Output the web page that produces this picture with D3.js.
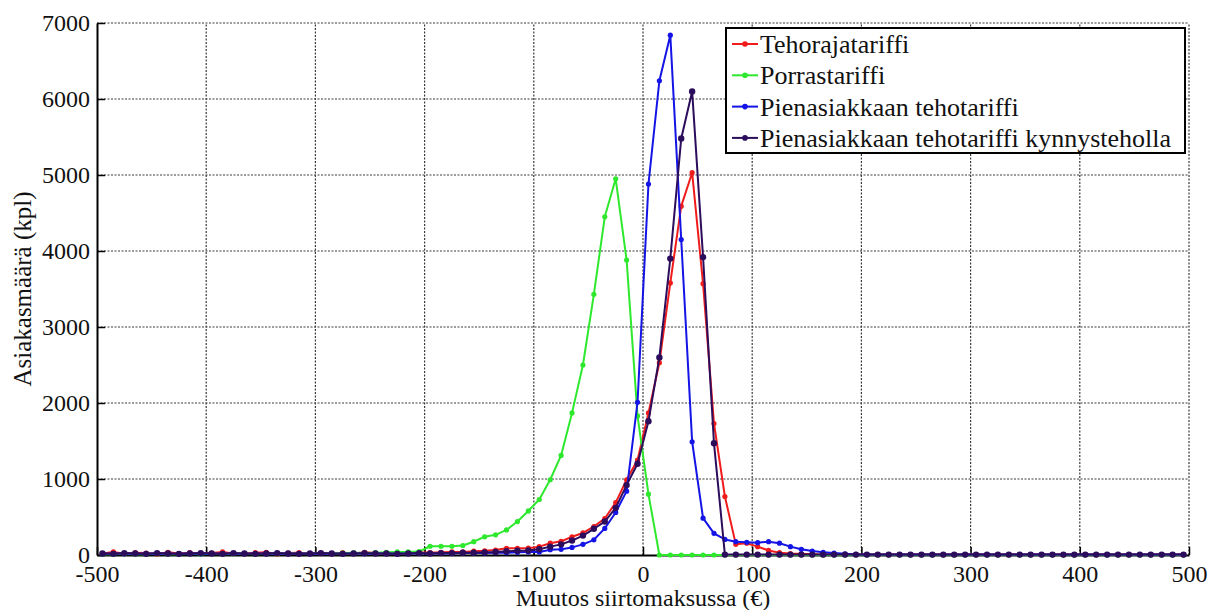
<!DOCTYPE html>
<html>
<head>
<meta charset="utf-8">
<script src="https://cdn.jsdelivr.net/npm/d3@7"></script>
<style>
  body { margin: 0; background: #fff; }
  svg text { font-family: "Liberation Serif", "DejaVu Serif", "Times New Roman", serif; fill: #111; }
</style>
</head>
<body>
<div id="chart"></div>
<script>
// bin centres, 10 euro bins from -500 to 500
const bins = d3.range(-495, 500, 10);

const xTicks = [-500, -400, -300, -200, -100, 0, 100, 200, 300, 400, 500];
const yTicks = [0, 1000, 2000, 3000, 4000, 5000, 6000, 7000];

const seriesNames = [
  "Tehorajatariffi",
  "Porrastariffi",
  "Pienasiakkaan tehotariffi",
  "Pienasiakkaan tehotariffi kynnysteholla"
];
const seriesColors = ["#f01c1c", "#2ee82e", "#1414e6", "#2c0d5c"];

// values, one per bin (-495 ... 495)
const tehoraja = [
  20, 40, 15, 30, 25, 10, 35, 20, 30, 15,
  25, 40, 20, 15, 30, 35, 10, 25, 30, 20,
  25, 15, 30, 20, 35, 25, 20, 30, 25, 35,
  30, 35, 40, 40, 50, 55, 65, 88, 88, 90,
  110, 155, 180, 240, 290, 375, 480, 690, 990, 1250,
  1870, 2530, 3580, 4590, 5030, 3570, 1730, 770, 140, 155,
  110, 60, 30, 20, 15, 10, 5, 5, 5, 5,
  5, 5, 5, 5, 5, 5, 5, 5, 5, 5,
  5, 5, 5, 5, 5, 5, 5, 5, 5, 5,
  5, 5, 5, 5, 5, 5, 5, 5, 5, 5
];
const porras = [
  10, 10, 15, 10, 10, 15, 10, 10, 15, 10,
  15, 10, 15, 15, 10, 15, 15, 20, 15, 20,
  20, 20, 25, 30, 25, 30, 35, 40, 40, 45,
  115, 115, 115, 125, 175, 240, 265, 330, 440, 580,
  730, 990, 1310, 1870, 2500, 3430, 4450, 4950, 3880, 1830,
  800, 0, 0, 0, 0, 0, 0, 0, 0, 0,
  0, 0, 0, 0, 0, 0, 0, 0, 0, 0,
  0, 0, 0, 0, 0, 0, 0, 0, 0, 0,
  0, 0, 0, 0, 0, 0, 0, 0, 0, 0,
  0, 0, 0, 0, 0, 0, 0, 0, 0, 0
];
const pienTeho = [
  15, 20, 15, 20, 15, 20, 15, 15, 20, 15,
  20, 15, 20, 15, 20, 15, 20, 15, 20, 15,
  20, 15, 20, 20, 15, 20, 20, 15, 20, 20,
  20, 20, 20, 25, 25, 25, 30, 30, 35, 40,
  40, 70, 75, 100, 140, 200, 350, 560, 840, 2010,
  4880, 6240, 6840, 4150, 1490, 485, 285, 205, 175, 168,
  162, 175, 155, 110, 75, 52, 35, 25, 15, 8,
  5, 5, 5, 5, 5, 5, 5, 5, 5, 5,
  5, 5, 5, 5, 5, 5, 5, 5, 5, 5,
  5, 5, 5, 5, 5, 5, 5, 5, 5, 5
];
const pienKynnys = [
  20, 15, 25, 20, 15, 25, 20, 15, 20, 25,
  20, 15, 25, 20, 15, 20, 25, 20, 15, 20,
  25, 20, 15, 20, 25, 20, 20, 15, 20, 25,
  20, 25, 25, 30, 30, 35, 40, 50, 55, 60,
  75, 110, 140, 190, 255, 345, 440, 620, 920, 1200,
  1760, 2600, 3900, 5480, 6100, 3920, 1470, 5, 5, 5,
  5, 5, 5, 5, 5, 5, 5, 5, 5, 5,
  5, 5, 5, 5, 5, 5, 5, 5, 5, 5,
  5, 5, 5, 5, 5, 5, 5, 5, 5, 5,
  5, 5, 5, 5, 5, 5, 5, 5, 5, 5
];

const seriesValues = [tehoraja, porras, pienTeho, pienKynnys];

const width = 1218, height = 610;
const margin = {top: 23, right: 29, bottom: 55, left: 97};
const serif = '"Liberation Serif", "DejaVu Serif", "Times New Roman", serif';

const svg = d3.select("#chart")
    .append("svg")
    .attr("width", width)
    .attr("height", height);

const x = d3.scaleLinear()
    .domain([-500, 500])
    .range([margin.left, width - margin.right]);

const y = d3.scaleLinear()
    .domain([0, 7000])
    .range([height - margin.bottom, margin.top]);

// dotted grid
const grid = svg.append("g").attr("class", "grid")
    .style("stroke", "#3a3a3a")
    .style("stroke-width", 1.2)
    .style("stroke-dasharray", "2,1.5");

grid.selectAll("line.gx")
    .data(xTicks.slice(1))
  .enter().append("line")
    .attr("class", "gx")
    .attr("x1", d => x(d)).attr("x2", d => x(d))
    .attr("y1", y(0)).attr("y2", y(7000));

grid.selectAll("line.gy")
    .data(yTicks.slice(1))
  .enter().append("line")
    .attr("class", "gy")
    .attr("x1", x(-500)).attr("x2", x(500))
    .attr("y1", d => y(d)).attr("y2", d => y(d));

// axes, ticks pointing inside, plain hyphen minus and no thousands comma
const fmt = d => String(d);

const xAxis = svg.append("g")
    .attr("transform", `translate(0,${y(0)})`)
    .call(d3.axisBottom(x).tickValues(xTicks).tickFormat(fmt)
      .tickSizeInner(-8).tickSizeOuter(0).tickPadding(10));

const yAxis = svg.append("g")
    .attr("transform", `translate(${x(-500)},0)`)
    .call(d3.axisLeft(y).tickValues(yTicks).tickFormat(fmt)
      .tickSizeInner(-8).tickSizeOuter(0).tickPadding(7));

[xAxis, yAxis].forEach(a => {
  a.attr("font-family", serif).attr("font-size", 24);
  a.select(".domain").attr("stroke", "#000").attr("stroke-width", 2);
  a.selectAll(".tick line").attr("stroke", "#000").attr("stroke-width", 1.5);
  a.selectAll(".tick text").attr("fill", "#111");
});
yAxis.selectAll(".tick text").attr("dy", "0.3em");

// axis labels
svg.append("text")
    .attr("x", x(0))
    .attr("y", 606)
    .attr("text-anchor", "middle")
    .attr("font-family", serif)
    .style("font-size", "24px")
    .text("Muutos siirtomaksussa (€)");

svg.append("text")
    .attr("transform", `translate(31,${(y(0) + y(7000)) / 2}) rotate(-90)`)
    .attr("text-anchor", "middle")
    .attr("font-family", serif)
    .style("font-size", "25px")
    .text("Asiakasmäärä (kpl)");

// series
const line = d3.line()
    .x((d, i) => x(bins[i]))
    .y(d => y(d));

const plot = svg.append("g").attr("class", "series");

seriesValues.forEach((vals, s) => {
  const g = plot.append("g");
  g.append("path")
      .datum(vals)
      .attr("d", line)
      .attr("fill", "none")
      .attr("stroke", seriesColors[s])
      .attr("stroke-width", 2)
      .attr("stroke-linejoin", "round");
  g.selectAll("circle")
      .data(vals)
    .enter().append("circle")
      .attr("cx", (d, i) => x(bins[i]))
      .attr("cy", d => y(d))
      .attr("r", s === 3 ? 3.2 : 2.6)
      .attr("fill", seriesColors[s]);
});

// legend
const legend = svg.append("g").attr("class", "legend");
legend.append("rect")
    .attr("x", 726).attr("y", 28)
    .attr("width", 459).attr("height", 125)
    .attr("fill", "#fff")
    .attr("stroke", "#000")
    .attr("stroke-width", 2);

const rows = legend.selectAll("g.row")
    .data(seriesNames)
  .enter().append("g")
    .attr("class", "row")
    .attr("transform", (d, i) => `translate(0,${44 + i * 31.3})`);

rows.append("line")
    .attr("x1", 732).attr("x2", 758)
    .attr("stroke", (d, i) => seriesColors[i])
    .attr("stroke-width", 2);
rows.append("circle")
    .attr("cx", 745).attr("r", 2.8)
    .attr("fill", (d, i) => seriesColors[i]);
rows.append("text")
    .attr("x", 760)
    .attr("dy", "0.35em")
    .attr("font-family", serif)
    .style("font-size", "26px")
    .text(d => d);
</script>
</body>
</html>
